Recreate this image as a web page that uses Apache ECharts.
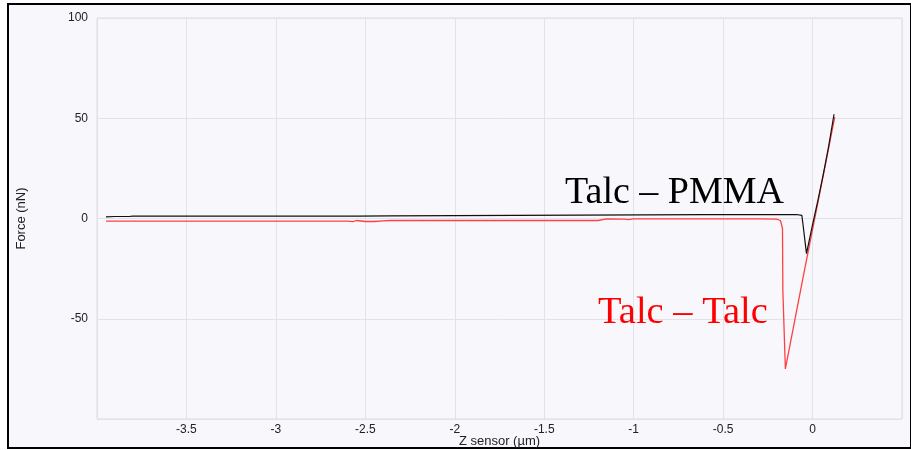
<!DOCTYPE html>
<html>
<head>
<meta charset="utf-8">
<script src="https://cdn.jsdelivr.net/npm/echarts@6/dist/echarts.min.js"></script>
<style>
html,body{margin:0;padding:0;background:#fff;}
#c{width:911px;height:450px;}
</style>
</head>
<body>
<div id="c"></div>
<script>
// Talc – PMMA (black) force curve
const pmmaX = [-3.95,-3.9,-3.89,-3.88,-3.87,-3.86,-3.85,-3.84,-3.83,-3.82,-3.8,-2.56,-2.55,-2.54,-2.36,-2.35,-0.6,-0.09,-0.06,-0.052,-0.034,0.0,0.03,0.06,0.09,0.12];
const pmmaY = [0.8,1.0,1.4,1.0,1.4,1.0,1.4,1.0,1.4,1.0,1.2,1.2,1.7,1.2,1.3,1.9,1.9,2.0,1.6,-4,-17.5,-3,9,22,36,52];
// Talc – Talc (red) force curve
const talcX = [-3.95,-2.6,-2.59,-2.57,-2.55,-2.5,-2.45,-2.4,-2.36,-1.2,-1.19,-1.15,-1.05,-1.03,-1.0,-0.3,-0.2,-0.18,-0.175,-0.168,-0.166,-0.16,-0.152,-0.05,0.05,0.124];
const talcY = [-1.3,-1.3,-0.9,-1.6,-1.0,-1.5,-1.5,-1.2,-1.0,-1.0,-0.5,-0.2,-0.3,-0.6,-0.2,-0.2,-0.3,-1.0,-2.5,-5,-36,-36,-75,-28,17,50.5];
const xTicks = [-3.5,-3,-2.5,-2,-1.5,-1,-0.5,0];
const yTicks = [-50,0,50,100];

const pmma = pmmaX.map((x,i)=>[x,pmmaY[i]]);
const talc = talcX.map((x,i)=>[x,talcY[i]]);

const chart = echarts.init(document.getElementById('c'));
const font = '"Liberation Sans", Arial, sans-serif';
chart.setOption({
  backgroundColor: '#ffffff',
  animation: false,
  graphic: [
    {type:'rect', shape:{x:8,y:4,width:903,height:444}, style:{fill:'#f7f7fc', stroke:'#000', lineWidth:2}, z:-10, silent:true},
    {type:'text', left:565, top:174, style:{text:'Talc – PMMA', font:'38px "Liberation Serif", "Times New Roman", serif', fill:'#000'}, z:10},
    {type:'text', left:598, top:293, style:{text:'Talc – Talc', font:'38.5px "Liberation Serif", "Times New Roman", serif', fill:'#ff0000'}, z:10}
  ],
  grid: {left:97, right:9, top:18, bottom:31, show:true, borderColor:'#dcdce4', borderWidth:1, backgroundColor:'transparent', containLabel:false, outerBoundsMode:'none'},
  xAxis: {
    type:'value', min:-4, max:0.5, interval:0.5,
    name:'Z sensor (µm)', nameLocation:'middle', nameGap:16, nameMoveOverlap:false,
    nameTextStyle:{fontFamily:font, fontSize:13, color:'#222'},
    axisLine:{show:false}, axisTick:{show:false},
    axisLabel:{fontFamily:font, fontSize:12, color:'#222', margin:5,
      formatter:v=> xTicks.some(t=>Math.abs(t-v)<1e-9) ? String(v) : ''},
    splitLine:{show:true, lineStyle:{color:'#e2e2ea', width:1}}
  },
  yAxis: {
    type:'value', min:-100, max:100, interval:50,
    name:'Force (nN)', nameLocation:'middle', nameGap:69, nameRotate:90, nameMoveOverlap:false,
    nameTextStyle:{fontFamily:font, fontSize:13, color:'#222'},
    axisLine:{show:false}, axisTick:{show:false},
    axisLabel:{fontFamily:font, fontSize:12, color:'#222', margin:9,
      formatter:v=> yTicks.indexOf(v)>=0 ? String(v) : ''},
    splitLine:{show:true, lineStyle:{color:'#e2e2ea', width:1}}
  },
  series: [
    {type:'line', data:talc, symbol:'none', lineStyle:{color:'#ff4040', width:1.3}, z:3},
    {type:'line', data:pmma, symbol:'none', lineStyle:{color:'#111', width:1.2}, z:4}
  ]
});
</script>
</body>
</html>
